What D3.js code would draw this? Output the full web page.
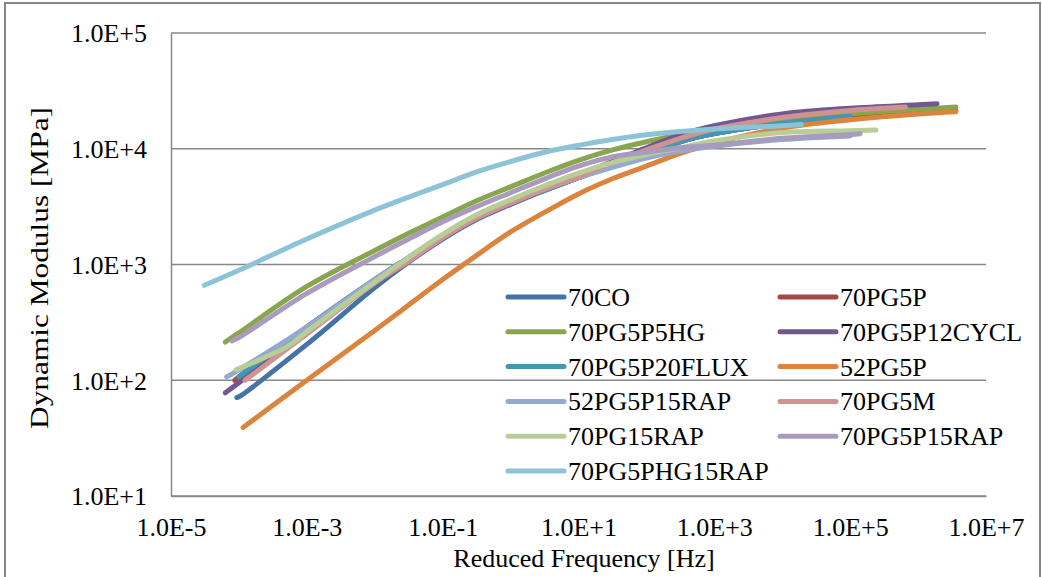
<!DOCTYPE html>
<html>
<head>
<meta charset="utf-8">
<script src="https://cdn.jsdelivr.net/npm/d3@7"></script>
<style>
  html, body { margin: 0; padding: 0; background: #fff; }
  svg { display: block; }
</style>
</head>
<body>
<svg id="chart" width="1042" height="577"></svg>
<script>
// ---- Data (frequency in Hz, dynamic modulus in MPa) ----
const seriesNames = ["70CO", "70PG5P", "70PG5P5HG", "70PG5P12CYCL", "70PG5P20FLUX", "52PG5P",
  "52PG5P15RAP", "70PG5M", "70PG15RAP", "70PG5P15RAP", "70PG5PHG15RAP"];

const s70CO = [[9.3e-5,71],[1e-4,72],[1e-3,204],[1e-2,631],[3.16e-2,1050],[0.1,1660],[0.316,2450],[1,3310],[3.16,4370],[10,5620],[31.6,7240],[100,9120],[316,11500],[1e3,13500],[1e4,16600],[1e5,19100]];
const s70PG5P = [[8.7e-5,100],[1e-4,107],[1e-3,288],[1e-2,741],[3.16e-2,1150],[0.1,1780],[0.316,2570],[1,3390],[3.16,4370],[10,5620],[31.6,7240],[100,9120],[316,11500],[1e3,13500],[1e4,16600],[1e5,19100],[1e6,20900],[3.6e6,21400]];
const s70PG5P5HG = [[6.3e-5,214],[1e-4,257],[1e-3,646],[1e-2,1320],[3.16e-2,1860],[0.1,2570],[0.316,3550],[1,4680],[3.16,6170],[10,7940],[31.6,9770],[100,11500],[316,13200],[1e3,14500],[1e4,17400],[1e5,20000],[1e6,21900],[3.6e6,22900]];
const s70PG5P12CYCL = [[6.3e-5,78],[1e-4,95],[1e-3,282],[1e-2,724],[3.16e-2,1120],[0.1,1740],[0.316,2510],[1,3390],[3.16,4470],[10,5890],[31.6,7760],[100,10200],[316,13200],[1e3,15800],[1e4,20000],[1e5,22400],[1e6,24000],[1.9e6,24500]];
const s70PG5P20FLUX = [[1e-4,107],[1e-3,288],[1e-2,741],[3.16e-2,1150],[0.1,1780],[0.316,2570],[1,3390],[3.16,4370],[10,5620],[31.6,7240],[100,9120],[316,11500],[1e3,13500],[1e4,16600],[1e5,19100]];
const s52PG5P = [[1.15e-4,39],[1e-3,100],[1e-2,269],[3.16e-2,447],[0.1,741],[0.316,1200],[1,1910],[3.16,2820],[10,4070],[31.6,5500],[100,7080],[316,9120],[1e3,11200],[1e4,15100],[1e5,17800],[1e6,20000],[3.6e6,20900]];
const s52PG5P15RAP = [[6.6e-5,107],[1e-4,123],[1e-3,288],[1e-2,741],[3.16e-2,1150],[0.1,1780],[0.316,2570],[1,3470],[3.16,4470],[10,5620],[31.6,6920],[100,8320],[316,9550],[1e3,10500],[1e4,12000],[1e5,12900]];
const s70PG5M = [[1.23e-4,100],[1e-3,251],[1e-2,692],[3.16e-2,1070],[0.1,1700],[0.316,2510],[1,3390],[3.16,4470],[10,5750],[31.6,7590],[100,9770],[316,12300],[1e3,14800],[1e4,18600],[1e5,21400],[6.5e5,22900]];
const s70PG15RAP = [[9.1e-5,123],[1e-4,126],[5.1e-4,195],[1e-3,263],[1e-2,708],[3.16e-2,1150],[0.1,1820],[0.316,2690],[1,3630],[3.16,4790],[10,6170],[31.6,7590],[100,8910],[316,10200],[1e3,11700],[1e4,13800],[1e5,14300],[2.4e5,14500]];
const s70PG5P15RAP = [[7.9e-5,219],[1e-4,234],[1e-3,562],[1e-2,1170],[3.16e-2,1660],[0.1,2340],[0.316,3160],[1,4170],[3.16,5500],[10,7080],[31.6,8510],[100,9330],[316,10200],[1e3,10700],[1e4,12300],[1e5,13300],[1.4e5,13500]];
const s70PG5PHG15RAP = [[3.1e-5,661],[1e-4,891],[1e-3,1660],[1e-2,2950],[0.1,4900],[0.316,6310],[1,7760],[3.16,9330],[10,10700],[31.6,12000],[100,13200],[1e3,14800],[1e4,15800],[1.9e4,16200]];

const seriesData = [s70CO, s70PG5P, s70PG5P5HG, s70PG5P12CYCL, s70PG5P20FLUX, s52PG5P,
  s52PG5P15RAP, s70PG5M, s70PG15RAP, s70PG5P15RAP, s70PG5PHG15RAP];

const xTicks = [1e-5, 1e-3, 1e-1, 1e1, 1e3, 1e5, 1e7];
const yTicks = [1e1, 1e2, 1e3, 1e4, 1e5];

// ---- Styles ----
const colors = ["#4572A7", "#AA4643", "#89A54E", "#71588F", "#4198AF", "#DB843D",
  "#93A9CF", "#D19392", "#B9CD96", "#A99BBD", "#8CC3D6"];
const FONT = '"Liberation Serif", "Times New Roman", serif';

const svg = d3.select("#chart").style("font-family", FONT);
const plotLeft = 171, plotRight = 986, plotTop = 33, plotBottom = 496;

svg.append("rect").attr("x", 5).attr("y", 3).attr("width", 1035).attr("height", 576)
  .attr("fill", "#fff").attr("stroke", "#878787").attr("stroke-width", 2);

const x = d3.scaleLog().domain([1e-5, 1e7]).range([plotLeft, plotRight]);
const y = d3.scaleLog().domain([1e1, 1e5]).range([plotBottom, plotTop]);

function fmt(v) {
  const e = Math.round(Math.log10(v));
  return "1.0E" + (e >= 0 ? "+" : "-") + Math.abs(e);
}

// gridlines
svg.append("g").selectAll("line").data(yTicks).join("line")
  .attr("x1", plotLeft).attr("x2", plotRight)
  .attr("y1", d => y(d)).attr("y2", d => y(d))
  .attr("stroke", "#888").attr("stroke-width", 1.5);

// axes
const yAxis = d3.axisLeft(y).tickValues(yTicks).tickFormat(fmt).tickSize(0).tickPadding(24);
const gy = svg.append("g").attr("transform", `translate(${plotLeft},0)`).call(yAxis);
gy.select(".domain").attr("stroke", "#888").attr("stroke-width", 1.5);
gy.selectAll("text").attr("font-size", 26).attr("dy", "0.34em").attr("fill", "#000")
  .style("font-family", FONT);

const xAxis = d3.axisBottom(x).tickValues(xTicks).tickFormat(fmt).tickSize(0).tickPadding(22);
const gx = svg.append("g").attr("transform", `translate(0,${plotBottom})`).call(xAxis);
gx.select(".domain").attr("stroke", "#888").attr("stroke-width", 1.5);
gx.selectAll("text").attr("font-size", 26).attr("dy", "0.71em").attr("fill", "#000")
  .style("font-family", FONT);

// axis titles
svg.append("text").attr("x", 584).attr("y", 567).attr("text-anchor", "middle")
  .attr("font-size", 26).attr("fill", "#000").style("font-family", FONT)
  .text("Reduced Frequency [Hz]");
svg.append("text").attr("transform", "translate(48,268) rotate(-90)")
  .attr("text-anchor", "middle").attr("font-size", 26).attr("fill", "#000")
  .style("font-family", FONT)
  .attr("textLength", 322).attr("lengthAdjust", "spacingAndGlyphs")
  .text("Dynamic Modulus [MPa]");

// lines
const line = d3.line().x(d => x(d[0])).y(d => y(d[1])).curve(d3.curveCatmullRom.alpha(0.5));
svg.append("g").selectAll("path").data(seriesData).join("path")
  .attr("d", line)
  .attr("fill", "none")
  .attr("stroke", (d, i) => colors[i])
  .attr("stroke-width", 5)
  .attr("stroke-linecap", "round")
  .attr("stroke-linejoin", "round");

// legend
const legendCols = [508, 780];
const legendRow0 = 297, legendRowStep = 34.8;
const lg = svg.append("g").selectAll("g").data(seriesNames).join("g")
  .attr("transform", (d, i) => `translate(${legendCols[i % 2]},${legendRow0 + Math.floor(i / 2) * legendRowStep})`);
lg.append("line").attr("x1", 0).attr("x2", 56).attr("y1", 0).attr("y2", 0)
  .attr("stroke", (d, i) => colors[i]).attr("stroke-width", 5).attr("stroke-linecap", "round");
lg.append("text").attr("x", 60).attr("y", 9).attr("font-size", 26).attr("fill", "#000")
  .style("font-family", FONT).text(d => d);
</script>
</body>
</html>
